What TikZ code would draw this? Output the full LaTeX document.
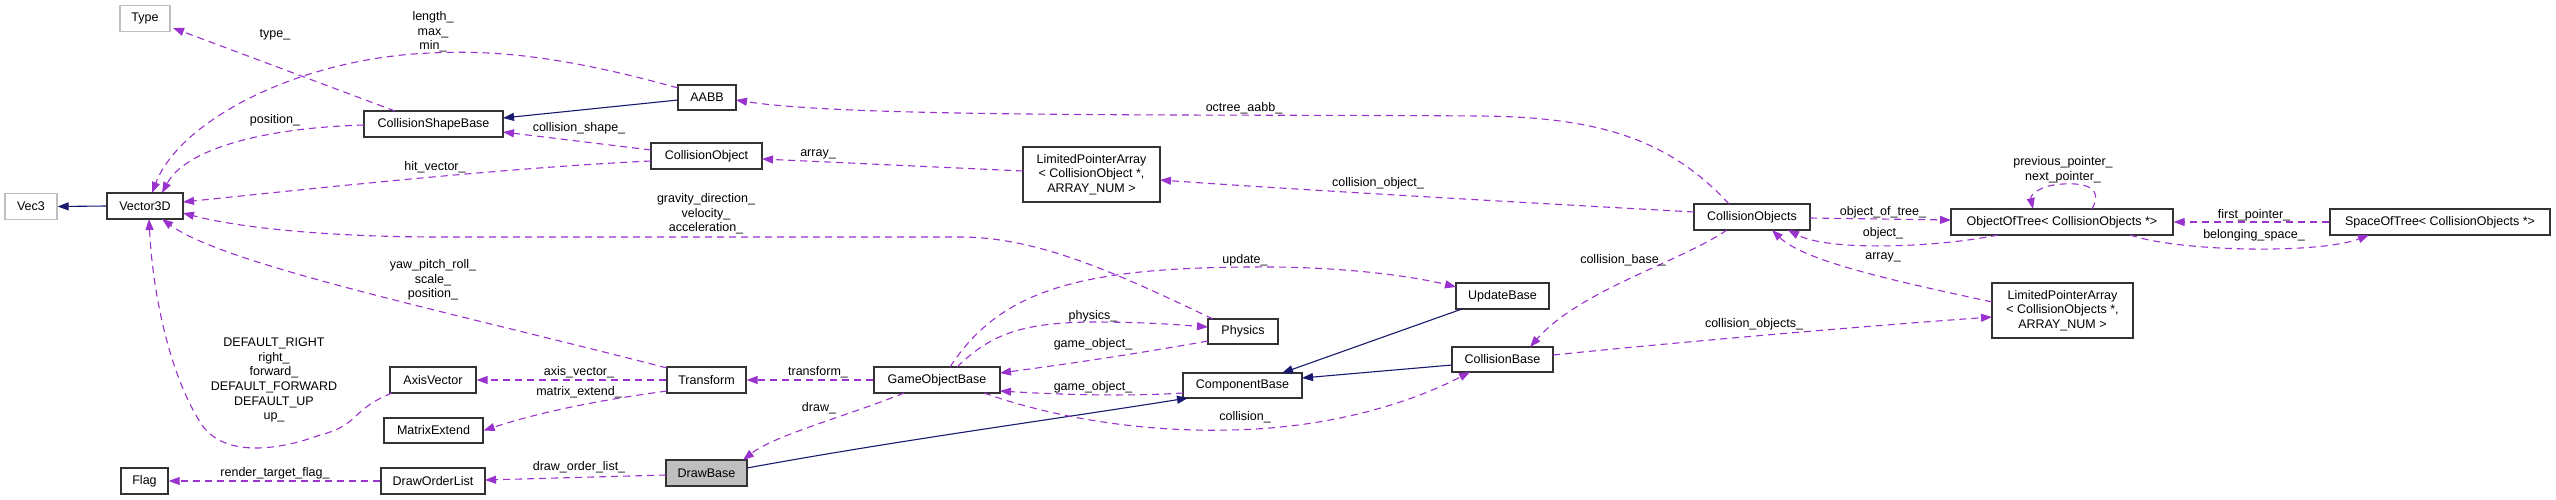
\documentclass[tikz,border=0pt]{standalone}
\usepackage{fontspec}
\setmainfont{Liberation Sans}
\usetikzlibrary{arrows.meta,calc}
\definecolor{usec}{HTML}{9A32CD}
\definecolor{inhc}{HTML}{191970}
\definecolor{extc}{HTML}{BFBFBF}
\tikzset{
  txt/.style={font=\fontsize{12.5}{14.7}\selectfont},
  cls/.style={txt, draw=black!80, line width=1.3pt, fill=white, inner sep=0pt, minimum height=26pt, align=center},
  extcls/.style={cls, draw=extc},
  selcls/.style={cls, fill=extc},
  usage/.style={draw=usec, line width=1.1pt, dash pattern=on 7pt off 5pt, -{Triangle[length=11pt,width=8pt,fill=usec]}},
  inh/.style={draw=inhc, line width=1.1pt, -{Triangle[length=11pt,width=8pt,fill=inhc]}},
  lbl/.style={txt, align=center, inner sep=0pt},
}
\begin{document}
\begin{tikzpicture}[x=1pt,y=-1pt]
\useasboundingbox[fill=white] (0,0) rectangle (2556,500);
% nodes
\node[extcls, minimum width=50pt] (Type) at (145,18.5) {Type};
\node[extcls, minimum width=52pt] (Vec3) at (31,206.5) {Vec3};
\node[cls, minimum width=76pt] (V3D) at (145,206) {Vector3D};
\node[cls, minimum width=139pt] (CSB) at (433.5,124) {CollisionShapeBase};
\node[cls, minimum width=58pt, minimum height=25pt] (AABB) at (707,97.5) {AABB};
\node[cls, minimum width=111pt] (CO) at (706.5,156) {CollisionObject};
\node[cls, minimum width=137pt, minimum height=55pt] (LPA1) at (1091.5,174.5) {LimitedPointerArray\\\textless{} CollisionObject *,\\ARRAY\_NUM \textgreater};
\node[cls, minimum width=116pt] (COs) at (1752,217) {CollisionObjects};
\node[cls, minimum width=222pt] (OOT) at (2062,222) {ObjectOfTree\textless{} CollisionObjects *\textgreater};
\node[cls, minimum width=220pt] (SOT) at (2440,222) {SpaceOfTree\textless{} CollisionObjects *\textgreater};
\node[cls, minimum width=141pt, minimum height=55pt] (LPA2) at (2062.5,310.5) {LimitedPointerArray\\\textless{} CollisionObjects *,\\ARRAY\_NUM \textgreater};
\node[cls, minimum width=93pt] (UB) at (1502.5,296) {UpdateBase};
\node[cls, minimum width=70pt, minimum height=25pt] (Phys) at (1243,331.5) {Physics};
\node[cls, minimum width=101pt, minimum height=25pt] (CB) at (1502.5,359.5) {CollisionBase};
\node[cls, minimum width=119pt, minimum height=25pt] (CompB) at (1242.5,385.5) {ComponentBase};
\node[cls, minimum width=126pt] (GOB) at (937,380) {GameObjectBase};
\node[cls, minimum width=79pt] (Tr) at (706.5,380) {Transform};
\node[cls, minimum width=86pt] (AV) at (433,380) {AxisVector};
\node[cls, minimum width=99pt, minimum height=25pt] (ME) at (433.5,430.5) {MatrixExtend};
\node[selcls, minimum width=81pt] (DB) at (706.5,473) {DrawBase};
\node[cls, minimum width=104pt] (DOL) at (433,481) {DrawOrderList};
\node[cls, minimum width=47pt] (Flag) at (144.5,481) {Flag};

% inheritance
\draw[inh] (V3D.west) -- (Vec3.east);
\draw[inh] ($(AABB)+(-29,2.5)$) -- ($(CSB)+(69.5,-6)$);
\draw[inh] ($(DB)+(40.5,-5)$) .. controls (900,440) and (1050,420) .. ($(CompB)+(-54.5,12.5)$);
\draw[inh] ($(UB)+(-40.5,13)$) -- ($(CompB)+(39.5,-12.5)$);
\draw[inh] ($(CB)+(-50.5,5.5)$) -- ($(CompB)+(59.5,-7.5)$);

% usage
\draw[usage] ($(CSB)+(-38.5,-13)$) -- ($(Type)+(28,9.5)$);
\draw[usage] ($(AABB)+(-29,-9.5)$) .. controls (560,55) and (490,50) .. (431,53) .. controls (300,58) and (180,120) .. ($(V3D)+(7,-13)$);
\draw[usage] ($(CSB)+(-69.5,1)$) .. controls (260,128) and (185,150) .. ($(V3D)+(17,-13)$);
\draw[usage] ($(CO)+(-55.5,-6)$) -- ($(CSB)+(69.5,8)$);
\draw[usage] ($(CO)+(-55.5,5)$) .. controls (500,168) and (300,190) .. ($(V3D)+(38,-4)$);
\draw[usage] ($(Phys)+(-30,-12.5)$) .. controls (1120,275) and (1040,237) .. (960,237) -- (440,237) .. controls (330,237) and (240,228) .. ($(V3D)+(38,7)$);
\draw[usage] ($(Tr)+(-39.5,-12)$) .. controls (450,312) and (225,265) .. ($(V3D)+(17,13)$);
\draw[usage] ($(AV)+(-41,13)$) .. controls (350,410) and (360,425) .. (320,435) .. controls (280,450) and (225,458) .. (202,425) .. controls (172,380) and (153,300) .. ($(V3D)+(4,13)$);
\draw[usage] (Tr.west) -- (AV.east);
\draw[usage] ($(Tr)+(-39.5,11)$) .. controls (600,400) and (540,412) .. (ME.east);
\draw[usage] (GOB.west) -- (Tr.east);
\draw[usage] ($(GOB)+(20,-13)$) .. controls (990,335) and (1020,323) .. (1090,322) .. controls (1150,322) and (1180,325) .. ($(Phys)+(-35,-4.5)$);
\draw[usage] ($(Phys)+(-35,9.5)$) .. controls (1130,355) and (1060,365) .. ($(GOB)+(63,-7)$);
\draw[usage] ($(GOB)+(13,-13)$) .. controls (1000,290) and (1080,268) .. (1250,267) .. controls (1350,266) and (1420,278) .. ($(UB)+(-46.5,-9)$);
\draw[usage] ($(CompB)+(-59.5,7.5)$) .. controls (1120,397) and (1050,394) .. ($(GOB)+(63,11)$);
\draw[usage] ($(GOB)+(47,13)$) .. controls (1060,420) and (1150,432) .. (1230,430) .. controls (1340,428) and (1420,398) .. ($(CB)+(-32.5,12.5)$);
\draw[usage] ($(GOB)+(-33,13)$) .. controls (850,415) and (775,435) .. ($(DB)+(36.5,-13)$);
\draw[usage] ($(DB)+(-40.5,2)$) -- ($(DOL)+(52,-1)$);
\draw[usage] (DOL.west) -- (Flag.east);
\draw[usage] ($(LPA1)+(-68.5,-3.5)$) -- ($(CO)+(55.5,3)$);
\draw[usage] ($(COs)+(-58,-5)$) .. controls (1550,204) and (1300,190) .. ($(LPA1)+(68.5,5.5)$);
\draw[usage] ($(COs)+(-23,-13)$) .. controls (1670,140) and (1600,117) .. (1480,116) .. controls (1200,114) and (850,118) .. ($(AABB)+(29,2.5)$);
\draw[usage] ($(COs)+(58,1)$) -- ($(OOT)+(-111,-2)$);
\draw[usage] ($(OOT)+(-64,13)$) .. controls (1940,247) and (1830,252) .. ($(COs)+(36,13)$);
\draw[usage] ($(OOT)+(30,-13)$) .. controls (2105,185) and (2080,183) .. (2063,184) .. controls (2040,185) and (2030,195) .. ($(OOT)+(-29,-13)$);
\draw[usage] (SOT.west) -- (OOT.east);
\draw[usage] ($(OOT)+(68,13)$) .. controls (2180,252) and (2320,254) .. ($(SOT)+(-71,13)$);
\draw[usage] ($(LPA2)+(-70.5,-8.5)$) .. controls (1900,282) and (1805,262) .. ($(COs)+(20,13)$);
\draw[usage] ($(COs)+(-25,13)$) .. controls (1680,262) and (1580,290) .. ($(CB)+(27.5,-12.5)$);
\draw[usage] ($(CB)+(50.5,-4.5)$) .. controls (1700,340) and (1880,325) .. ($(LPA2)+(-70.5,6.5)$);

% labels
\node[lbl] (l1) at (275,35) {type\_};
\node[lbl] (l2) at (433,32) {length\_\\max\_\\min\_};
\node[lbl] (l3) at (275,120) {position\_};
\node[lbl] (l4) at (579,128) {collision\_shape\_};
\node[lbl] (l5) at (435,167) {hit\_vector\_};
\node[lbl] (l6) at (706,214) {gravity\_direction\_\\velocity\_\\acceleration\_};
\node[lbl] (l7) at (433,280) {yaw\_pitch\_roll\_\\scale\_\\position\_};
\node[lbl] (l8) at (274,380) {DEFAULT\_RIGHT\\right\_\\forward\_\\DEFAULT\_FORWARD\\DEFAULT\_UP\\up\_};
\node[lbl] (l9) at (579,372) {axis\_vector\_};
\node[lbl] (l10) at (579,392) {matrix\_extend\_};
\node[lbl] (l11) at (818,372) {transform\_};
\node[lbl] (l12) at (819,408) {draw\_};
\node[lbl] (l13) at (579,467) {draw\_order\_list\_};
\node[lbl] (l14) at (275,473) {render\_target\_flag\_};
\node[lbl] (l15) at (1093,316) {physics\_};
\node[lbl] (l16) at (1093,344) {game\_object\_};
\node[lbl] (l17) at (1245,260) {update\_};
\node[lbl] (l18) at (1093,387) {game\_object\_};
\node[lbl] (l19) at (1245,417) {collision\_};
\node[lbl] (l20) at (818,154) {array\_};
\node[lbl] (l21) at (1378,183) {collision\_object\_};
\node[lbl] (l22) at (1244,108) {octree\_aabb\_};
\node[lbl] (l23) at (1883,212) {object\_of\_tree\_};
\node[lbl] (l24) at (1883,233) {object\_};
\node[lbl] (l25) at (1883,257) {array\_};
\node[lbl] (l26) at (1623,260) {collision\_base\_};
\node[lbl] (l27) at (1754,324) {collision\_objects\_};
\node[lbl] (l28) at (2063,170) {previous\_pointer\_\\next\_pointer\_};
\node[lbl] (l29) at (2254,215) {first\_pointer\_};
\node[lbl] (l30) at (2254,235) {belonging\_space\_};
\end{tikzpicture}
\end{document}
